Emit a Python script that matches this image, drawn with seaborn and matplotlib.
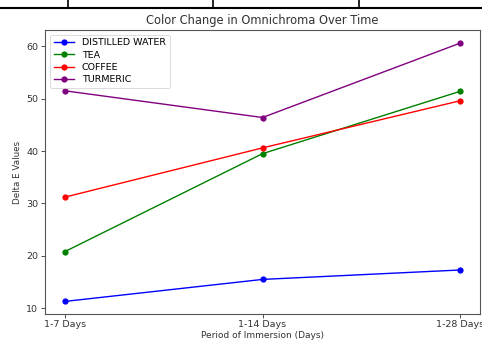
import matplotlib
matplotlib.use("Agg")
import matplotlib.pyplot as plt
from matplotlib.lines import Line2D
import seaborn as sns
import pandas as pd

periods = ["1-7 Days", "1-14 Days", "1-28 Days"]
distilled_water = [11.3, 15.5, 17.3]
tea = [20.8, 39.5, 51.4]
coffee = [31.2, 40.6, 49.6]
turmeric = [51.5, 46.4, 60.6]
series_names = ["DISTILLED WATER", "TEA", "COFFEE", "TURMERIC"]
colors = ["blue", "green", "red", "purple"]

rows = []
for name, vals in zip(series_names, [distilled_water, tea, coffee, turmeric]):
    for p, v in zip(periods, vals):
        rows.append({"Period": p, "Delta E": v, "Solution": name})
df = pd.DataFrame(rows)

fig = plt.figure(figsize=(4.82, 3.40), dpi=100)
ax = fig.add_axes([45/482, 26/340, 435/482, 284/340])

sns.lineplot(data=df, x="Period", y="Delta E", hue="Solution",
             hue_order=series_names, palette=colors, marker="o",
             markersize=4.5, markeredgewidth=0, linewidth=1, sort=False, ax=ax)

ax.set_title("Color Change in Omnichroma Over Time", fontsize=8.3, color="#333333", pad=4)
ax.set_xlabel("Period of Immersion (Days)", fontsize=6.5, color="#333333", labelpad=1)
ax.set_ylabel("Delta E Values", fontsize=6.3, color="#333333", labelpad=3)
ax.set_yticks([10, 20, 30, 40, 50, 60])
ax.tick_params(labelsize=6.8, colors="#333333", length=3, width=0.6, pad=2)
ax.tick_params(axis="x", pad=1.5)
for s in ax.spines.values():
    s.set_color("#555555")
    s.set_linewidth(0.8)
ax.set_ylim(8.9, 63.1)
ax.set_xlim(-0.1, 2.1)

leg = ax.legend(loc="upper left", fontsize=6.8, frameon=True, handlelength=2.2,
                borderpad=0.4, labelspacing=0.35, handletextpad=0.8,
                borderaxespad=0.5)
leg.get_frame().set_linewidth(0.6)

# table border lines at top of screenshot
fig.add_artist(Line2D([0, 1], [1 - 8/340, 1 - 8/340], color="black", linewidth=1.5))
for x in [68, 213, 359]:
    fig.add_artist(Line2D([x/482, x/482], [1, 1 - 8/340], color="black", linewidth=1.2))

fig.savefig("out.png", dpi=100)
